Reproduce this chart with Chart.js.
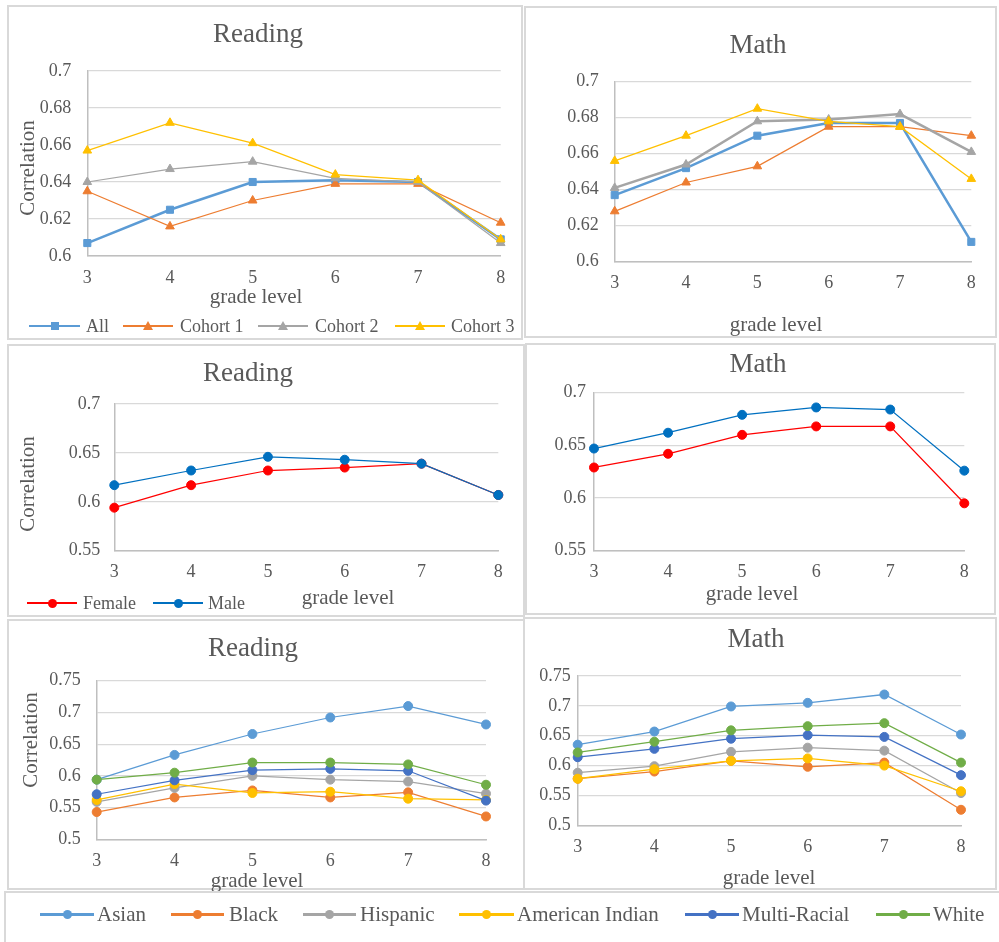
<!DOCTYPE html>
<html>
<head>
<meta charset="utf-8">
<script src="https://cdn.jsdelivr.net/npm/chart.js@4.4.1/dist/chart.umd.min.js"></script>
<style>
    body { margin: 0; background: #fff; }
    #page {
        position: relative;
        width: 999px;
        height: 942px;
        overflow: hidden;
        font-family: "Liberation Serif", "Times New Roman", serif;
        color: #595959;
    }
    #page canvas { position: absolute; }
    .frame {
        position: absolute;
        border: 2px solid #D9D9D9;
        box-sizing: border-box;
    }
    .t {
        position: absolute;
        white-space: nowrap;
        transform: translate(-50%, -50%);
        line-height: 1;
    }
    .key-line { position: absolute; }
    .key-mark { position: absolute; }
    .key-text {
        position: absolute;
        white-space: nowrap;
        transform: translateY(-50%);
        line-height: 1;
    }
</style>
</head>
<body>
<div id="page"></div>
<script>
// 年级
const grades = ['3', '4', '5', '6', '7', '8'];

// 全体与各队列
const readAll     = [0.607, 0.625, 0.640, 0.641, 0.640, 0.609];
const readCohort1 = [0.635, 0.616, 0.630, 0.639, 0.639, 0.618];
const readCohort2 = [0.640, 0.647, 0.651, 0.642, 0.640, 0.607];
const readCohort3 = [0.657, 0.672, 0.661, 0.644, 0.641, 0.609];

const mathAll     = [0.637, 0.652, 0.670, 0.677, 0.677, 0.611];
const mathCohort1 = [0.628, 0.644, 0.653, 0.675, 0.675, 0.670];
const mathCohort2 = [0.641, 0.654, 0.678, 0.679, 0.682, 0.661];
const mathCohort3 = [0.656, 0.670, 0.685, 0.678, 0.675, 0.646];

// 性别
const readFemale = [0.594, 0.617, 0.632, 0.635, 0.639, 0.607];
const readMale   = [0.617, 0.632, 0.646, 0.643, 0.639, 0.607];
const mathFemale = [0.629, 0.642, 0.660, 0.668, 0.668, 0.595];
const mathMale   = [0.647, 0.662, 0.679, 0.686, 0.684, 0.626];

// 族裔
const readAsian    = [0.594, 0.633, 0.666, 0.692, 0.710, 0.681];
const readBlack    = [0.543, 0.566, 0.577, 0.566, 0.574, 0.536];
const readHispanic = [0.559, 0.581, 0.600, 0.594, 0.591, 0.572];
const readAmInd    = [0.562, 0.587, 0.573, 0.575, 0.564, 0.562];
const readMulti    = [0.571, 0.593, 0.609, 0.611, 0.608, 0.561];
const readWhite    = [0.594, 0.605, 0.621, 0.621, 0.618, 0.586];

const mathAsian    = [0.635, 0.657, 0.699, 0.705, 0.719, 0.652];
const mathBlack    = [0.578, 0.590, 0.608, 0.598, 0.605, 0.526];
const mathHispanic = [0.588, 0.599, 0.623, 0.630, 0.625, 0.554];
const mathAmInd    = [0.578, 0.594, 0.608, 0.612, 0.600, 0.557];
const mathMulti    = [0.614, 0.628, 0.645, 0.651, 0.648, 0.584];
const mathWhite    = [0.622, 0.640, 0.659, 0.666, 0.671, 0.605];

const ethnicNames = ['Asian', 'Black', 'Hispanic', 'American Indian', 'Multi-Racial', 'White'];
const ethnicColors = ['#5B9BD5', '#ED7D31', '#A5A5A5', '#FFC000', '#4472C4', '#70AD47'];

const FONT = '"Liberation Serif", "Times New Roman", serif';
const TEXT = '#595959';
const page = document.getElementById('page');

function addText(text, x, y, size, vertical) {
    const el = document.createElement('div');
    el.className = 't';
    el.textContent = text;
    el.style.left = x + 'px';
    el.style.top = y + 'px';
    el.style.fontSize = size + 'px';
    if (vertical) el.style.transform = 'translate(-50%, -50%) rotate(-90deg)';
    page.appendChild(el);
}

function addFrame(x, y, w, h) {
    const el = document.createElement('div');
    el.className = 'frame';
    el.style.cssText += `left:${x}px;top:${y}px;width:${w}px;height:${h}px;`;
    page.appendChild(el);
}

// 图例项: 线段 + 标记 + 文字
function addKey(x1, x2, y, color, marker, lineW, label, textX, size) {
    const line = document.createElement('div');
    line.className = 'key-line';
    line.style.cssText += `left:${x1}px;top:${y - lineW / 2}px;width:${x2 - x1}px;height:${lineW}px;background:${color};`;
    page.appendChild(line);

    const m = document.createElement('div');
    m.className = 'key-mark';
    const cx = (x1 + x2) / 2;
    if (marker === 'circle') {
        m.style.cssText += `left:${cx - 4.5}px;top:${y - 4.5}px;width:9px;height:9px;border-radius:50%;background:${color};`;
    } else if (marker === 'rect') {
        m.style.cssText += `left:${cx - 4}px;top:${y - 4}px;width:8px;height:8px;background:${color};`;
    } else {
        m.style.cssText += `left:${cx - 5}px;top:${y - 5}px;width:0;height:0;border-left:5px solid transparent;border-right:5px solid transparent;border-bottom:9px solid ${color};`;
    }
    page.appendChild(m);

    const t = document.createElement('div');
    t.className = 'key-text';
    t.textContent = label;
    t.style.cssText += `left:${textX}px;top:${y}px;font-size:${size}px;`;
    page.appendChild(t);
}

function series(label, data, color, marker, width, radius) {
    return { label, data, color, marker, width, radius };
}

// box: 画布位置, area: 绘图区 (页面坐标)
function lineChart(box, area, yMin, yMax, yStep, list) {
    const cv = document.createElement('canvas');
    cv.width = box.w;
    cv.height = box.h;
    cv.style.left = box.x + 'px';
    cv.style.top = box.y + 'px';
    page.appendChild(cv);

    const X_H = 30;
    return new Chart(cv, {
        type: 'line',
        data: {
            labels: grades,
            datasets: list.map((s, i) => ({
                label: s.label,
                data: s.data,
                order: -i,
                borderColor: s.color,
                backgroundColor: s.color,
                pointBackgroundColor: s.color,
                pointBorderColor: s.color,
                pointBorderWidth: 1,
                borderWidth: s.width,
                pointStyle: s.marker,
                pointRadius: s.radius,
                tension: 0,
                clip: false
            }))
        },
        options: {
            responsive: false,
            animation: false,
            devicePixelRatio: 1,
            layout: {
                padding: {
                    left: 0,
                    top: area.t - box.y,
                    right: box.x + box.w - area.r,
                    bottom: box.y + box.h - area.b - X_H
                }
            },
            plugins: {
                legend: { display: false },
                tooltip: { enabled: false }
            },
            scales: {
                x: {
                    offset: false,
                    grid: { display: false, drawTicks: false },
                    border: { color: '#BFBFBF', width: 1.5 },
                    ticks: {
                        color: TEXT,
                        font: { family: FONT, size: 18 },
                        padding: 11,
                        maxRotation: 0,
                        autoSkip: false
                    },
                    afterFit: s => { s.height = X_H; }
                },
                y: {
                    min: yMin,
                    max: yMax,
                    grid: { color: '#D9D9D9', lineWidth: 1.2, drawTicks: false },
                    border: { color: '#BFBFBF', width: 1.5 },
                    ticks: {
                        stepSize: yStep,
                        color: TEXT,
                        font: { family: FONT, size: 18 },
                        padding: area.pad,
                        callback: v => String(+v.toFixed(3))
                    },
                    afterFit: s => { s.width = area.l - box.x; }
                }
            }
        }
    });
}

// ---- 第一行: 队列 ----
const cohortColors = ['#5B9BD5', '#ED7D31', '#A5A5A5', '#FFC000'];

lineChart({ x: 7, y: 5, w: 516, h: 335 }, { l: 87.3, t: 71, r: 500.7, b: 256, pad: 16 }, 0.6, 0.7, 0.02, [
    series('All', readAll, cohortColors[0], 'rect', 2.5, 5),
    series('Cohort 1', readCohort1, cohortColors[1], 'triangle', 1.25, 5),
    series('Cohort 2', readCohort2, cohortColors[2], 'triangle', 1.25, 5),
    series('Cohort 3', readCohort3, cohortColors[3], 'triangle', 1.25, 5)
]);
addFrame(7, 5, 516, 335);
addText('Reading', 258, 33, 27);
addText('grade level', 256, 296, 21);
addText('Correlation', 27, 168, 21, true);
addKey(29, 80, 326, cohortColors[0], 'rect', 2.5, 'All', 86, 18);
addKey(123, 173, 326, cohortColors[1], 'triangle', 1.5, 'Cohort 1', 180, 18);
addKey(258, 308, 326, cohortColors[2], 'triangle', 1.5, 'Cohort 2', 315, 18);
addKey(395, 445, 326, cohortColors[3], 'triangle', 1.5, 'Cohort 3', 451, 18);

lineChart({ x: 524, y: 6, w: 473, h: 332 }, { l: 614.7, t: 81.7, r: 971.3, b: 261.7, pad: 16 }, 0.6, 0.7, 0.02, [
    series('All', mathAll, cohortColors[0], 'rect', 2.5, 5),
    series('Cohort 1', mathCohort1, cohortColors[1], 'triangle', 1.25, 5),
    series('Cohort 2', mathCohort2, cohortColors[2], 'triangle', 2.5, 5),
    series('Cohort 3', mathCohort3, cohortColors[3], 'triangle', 1.25, 5)
]);
addFrame(524, 6, 473, 332);
addText('Math', 758, 44, 27);
addText('grade level', 776, 324, 21);

// ---- 第二行: 性别 ----
const femaleColor = '#FF0000';
const maleColor = '#0070C0';

lineChart({ x: 7, y: 344, w: 518, h: 273 }, { l: 114.3, t: 404, r: 498.3, b: 550.7, pad: 14 }, 0.55, 0.7, 0.05, [
    series('Female', readFemale, femaleColor, 'circle', 1.25, 4.5),
    series('Male', readMale, maleColor, 'circle', 1.25, 4.5)
]);
addFrame(7, 344, 518, 273);
addText('Reading', 248, 372, 27);
addText('grade level', 348, 597, 21);
addText('Correlation', 27, 484, 21, true);
addKey(27, 77, 603, femaleColor, 'circle', 1.5, 'Female', 83, 18);
addKey(153, 203, 603, maleColor, 'circle', 1.5, 'Male', 208, 18);

lineChart({ x: 525, y: 343, w: 471, h: 272 }, { l: 594, t: 392.7, r: 964.3, b: 550.7, pad: 8 }, 0.55, 0.7, 0.05, [
    series('Female', mathFemale, femaleColor, 'circle', 1.25, 4.5),
    series('Male', mathMale, maleColor, 'circle', 1.25, 4.5)
]);
addFrame(525, 343, 471, 272);
addText('Math', 758, 363, 27);
addText('grade level', 752, 593, 21);

// ---- 第三行: 族裔 ----
const readEthnic = [readAsian, readBlack, readHispanic, readAmInd, readMulti, readWhite];
const mathEthnic = [mathAsian, mathBlack, mathHispanic, mathAmInd, mathMulti, mathWhite];

lineChart({ x: 7, y: 619, w: 518, h: 271 }, { l: 96.7, t: 680.7, r: 486, b: 839.3, pad: 16 }, 0.5, 0.75, 0.05,
    readEthnic.map((d, i) => series(ethnicNames[i], d, ethnicColors[i], 'circle', 1.25, 4.5)));
addFrame(7, 619, 518, 271);
addText('Reading', 253, 647, 27);
addText('grade level', 257, 880, 21);
addText('Correlation', 30, 740, 21, true);

lineChart({ x: 523, y: 617, w: 474, h: 273 }, { l: 577.7, t: 676, r: 961, b: 825.3, pad: 7 }, 0.5, 0.75, 0.05,
    mathEthnic.map((d, i) => series(ethnicNames[i], d, ethnicColors[i], 'circle', 1.25, 4.5)));
addFrame(523, 617, 474, 273);
addText('Math', 756, 638, 27);
addText('grade level', 769, 877, 21);

// 底部共用图例
addFrame(4, 891, 1000, 60);
const keyLines = [[40, 94, 97], [171, 224, 229], [303, 356, 360], [459, 514, 517], [685, 739, 742], [876, 930, 933]];
keyLines.forEach((k, i) => addKey(k[0], k[1], 914, ethnicColors[i], 'circle', 3, ethnicNames[i], k[2], 21));
</script>
</body>
</html>
